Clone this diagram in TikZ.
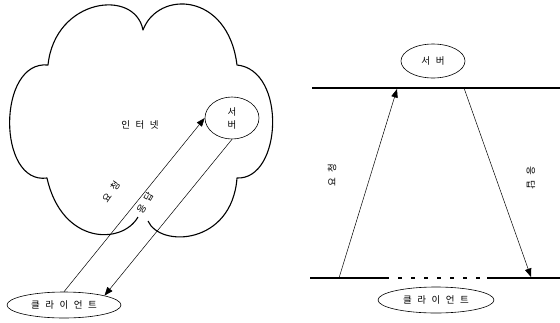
\documentclass[tikz,border=0pt]{standalone}
\usepackage{fontspec}
\usepackage{tikz}
\usetikzlibrary{arrows.meta,shapes.geometric}
\setmainfont{Noto Sans CJK KR}[WordSpace=2.6]

\begin{document}
\begin{tikzpicture}[
  x=1pt,y=-1pt,
  >={Triangle[length=8.5pt,width=6.5pt]},
  bubble/.style={draw,ellipse,line width=0.6pt,inner sep=0pt,align=center,font=\fontsize{9.5}{11}\selectfont},
  tag/.style={inner sep=1pt,font=\fontsize{9.5}{11}\selectfont},
  msg/.style={->,line width=0.5pt},
  lane/.style={line width=1.8pt},
  cloudline/.style={line width=1.1pt,line join=round}
]
  \useasboundingbox (0,0) rectangle (560,322);
  % internet cloud
  \draw[cloudline] (148,221) .. controls (160,248) and (232,245) .. (237,178)
    .. controls (282,180) and (287,70) .. (237,65)
    .. controls (228,-8) and (158,-10) .. (143,30)
    .. controls (135,-12) and (55,-2) .. (48,65)
    .. controls (-3,60) and (-3,185) .. (47,178)
    .. controls (62,245) and (122,245) .. (138,217);
  \node[tag] (net) at (140,125) {인 터 넷};
  \node[bubble,minimum width=54pt,minimum height=42pt] (srvL) at (232,118) {서\\[2pt]버};
  \node[bubble,minimum width=114pt,minimum height=26pt] (cliL) at (64,305) {클 라 이 언 트};
  \draw[msg] (cliL.north) -- (srvL.west);
  \draw[msg] (srvL.south) -- (cliL.north east);
  \node[tag,rotate=55] (reqL) at (111,192) {요 청};
  \node[tag,rotate=60] (resL) at (145,203) {응 답};
  % timeline
  \node[bubble,minimum width=64pt,minimum height=34pt] (srvR) at (433,61) {서 버};
  \node[bubble,minimum width=116pt,minimum height=26pt] (cliR) at (436,300) {클 라 이 언 트};
  \coordinate (topA) at (312,88);
  \coordinate (topB) at (560,88);
  \coordinate (botA) at (310,278);
  \coordinate (gapA) at (385,278);
  \coordinate (gapB) at (487,278);
  \coordinate (botB) at (560,278);
  \draw[lane] (topA) -- (topB);
  \draw[lane] (botA) -- (gapA);
  \draw[lane,dash pattern=on 4pt off 9pt] (gapA) -- (gapB);
  \draw[lane] (gapB) -- (botB);
  \coordinate (reqS) at (339,278);
  \coordinate (reqE) at (397,89);
  \coordinate (resS) at (464,88);
  \coordinate (resE) at (531,277);
  \draw[msg] (reqS) -- (reqE);
  \draw[msg] (resS) -- (resE);
  \node[tag,rotate=90] (reqR) at (332,175) {요 청};
  \node[tag,rotate=-90] (resR) at (531,178) {응 답};
\end{tikzpicture}
\end{document}
